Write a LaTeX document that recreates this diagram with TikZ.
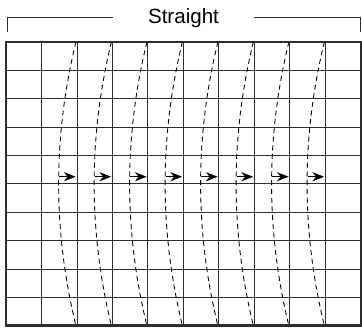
\documentclass[tikz,border=0pt]{standalone}
\usepackage{fontspec}
\setmainfont{Liberation Sans}
\usetikzlibrary{arrows.meta}
\definecolor{gridgray}{RGB}{45,45,45}

\begin{document}
\begin{tikzpicture}[
      cell/.style={draw=gridgray, line width=0.8pt},
      frame/.style={draw=gridgray, line width=2.2pt},
      flow/.style={draw=black, line width=0.7pt, dash pattern=on 4pt off 3pt},
      arr/.style={-{Stealth[length=3.3mm, width=2.6mm]}, line width=0.8pt},
      brk/.style={draw=gridgray, line width=0.6pt},
      t/.style={font=\fontsize{16.5}{19}\selectfont, inner sep=0pt}]
    \useasboundingbox (-0.17,-0.11) rectangle (10.03,9.18);
    % grid
    \foreach \x in {1,...,9} \draw[cell] (\x,0) -- (\x,8);
    \foreach \y in {1,...,9} \draw[cell] (0,\y*0.8) -- (10,\y*0.8);
    \draw[frame] (0,0) rectangle (10,8);
    % title and bracket
    \node[t, anchor=base] (title) at (5,8.51) {Straight};
    \coordinate (lt) at (0.03,8.28);
    \coordinate (rt) at (9.97,8.28);
    \draw[brk] (lt) |- (3.01,8.70);
    \draw[brk] (rt) |- (6.99,8.70);
    % stream lines and flow arrows
    \foreach \i in {1,...,8} {
      \draw[flow] (\i+0.97,8) .. controls (\i+0.32,5.33) and (\i+0.32,2.67) .. (\i+0.97,0);
      \draw[arr] (\i+0.5,4.2) -- (\i+0.96,4.2);
    }
  \end{tikzpicture}
\end{document}
